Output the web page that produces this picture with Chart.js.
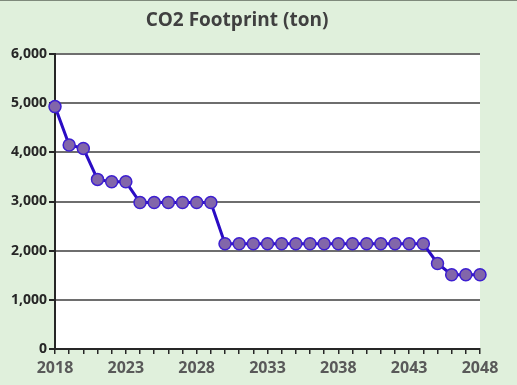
<!DOCTYPE html>
<html>
<head>
<meta charset="utf-8">
<script src="https://cdn.jsdelivr.net/npm/chart.js@4"></script>
<style>
  html, body { margin: 0; padding: 0; background: #e0f0dc; }
  #wrap { width: 517px; height: 384px; border-top: 1px solid #7f8a7c; }
</style>
</head>
<body>
<div id="wrap"><canvas id="co2" width="517" height="384"></canvas></div>
<script>
// CO2 footprint per year
const years = [];
for (let y = 2018; y <= 2048; y++) years.push(String(y));

const footprint = [
  4930, 4150, 4080, 3450, 3400, 3400, 2980, 2980, 2980, 2980,
  2980, 2980, 2140, 2140, 2140, 2140, 2140, 2140, 2140, 2140,
  2140, 2140, 2140, 2140, 2140, 2140, 2140, 1740, 1510, 1510, 1510,
];

const yTicks = [0, 1000, 2000, 3000, 4000, 5000, 6000];

// white plot area + title drawn at a fixed spot
const plotBg = {
  id: "plotBg",
  beforeDraw(chart) {
    const { ctx, chartArea: a } = chart;
    ctx.save();
    ctx.fillStyle = "#ffffff";
    ctx.fillRect(a.left, a.top, a.right - a.left, a.bottom - a.top);
    ctx.fillStyle = "#404040";
    ctx.font = "bold 19px 'Open Sans'";
    ctx.textAlign = "center";
    ctx.textBaseline = "middle";
    ctx.fillText("CO2 Footprint (ton)", 237, 20);
    ctx.restore();
  },
};

const ctx = document.getElementById("co2").getContext("2d");
new Chart(ctx, {
  type: "line",
  data: {
    labels: years,
    datasets: [
      {
        data: footprint,
        borderColor: "#2a0cc4",
        borderWidth: 3,
        backgroundColor: "#8064a8",
        pointBackgroundColor: "#8266aa",
        pointBorderColor: "#3d1fd0",
        pointBorderWidth: 1.5,
        pointRadius: 6,
        tension: 0,
      },
    ],
  },
  options: {
    responsive: false,
    animation: false,
    layout: { padding: { top: 53, right: 37, left: 0, bottom: 0 } },
    plugins: { legend: { display: false }, tooltip: { enabled: false } },
    scales: {
      x: {
        offset: false,
        grid: {
          drawOnChartArea: false,
          drawTicks: true,
          tickLength: 5,
          color: "#262626",
          lineWidth: 1.5,
        },
        border: { color: "#262626", width: 2 },
        ticks: {
          autoSkip: false,
          maxRotation: 0,
          color: "#595959",
          font: { size: 16, weight: "bold", family: "'Open Sans'" },
          padding: 5,
          callback: function (v, i) {
            return i % 5 === 0 ? years[i] : "";
          },
        },
        afterFit(s) { s.height = 36; },
      },
      y: {
        min: 0,
        max: 6000,
        afterBuildTicks(s) { s.ticks = yTicks.map((v) => ({ value: v })); },
        grid: {
          color: "#6e6e6e",
          lineWidth: 2,
          tickLength: 6,
          tickColor: "#262626",
        },
        border: { color: "#262626", width: 2 },
        ticks: {
          color: "#262626",
          font: { size: 14, weight: "bold", family: "'Open Sans'" },
          padding: 2,
          callback: (v) => v.toLocaleString("en-US"),
        },
        afterFit(s) { s.width = 55; },
      },
    },
  },
  plugins: [plotBg],
});
</script>
</body>
</html>
